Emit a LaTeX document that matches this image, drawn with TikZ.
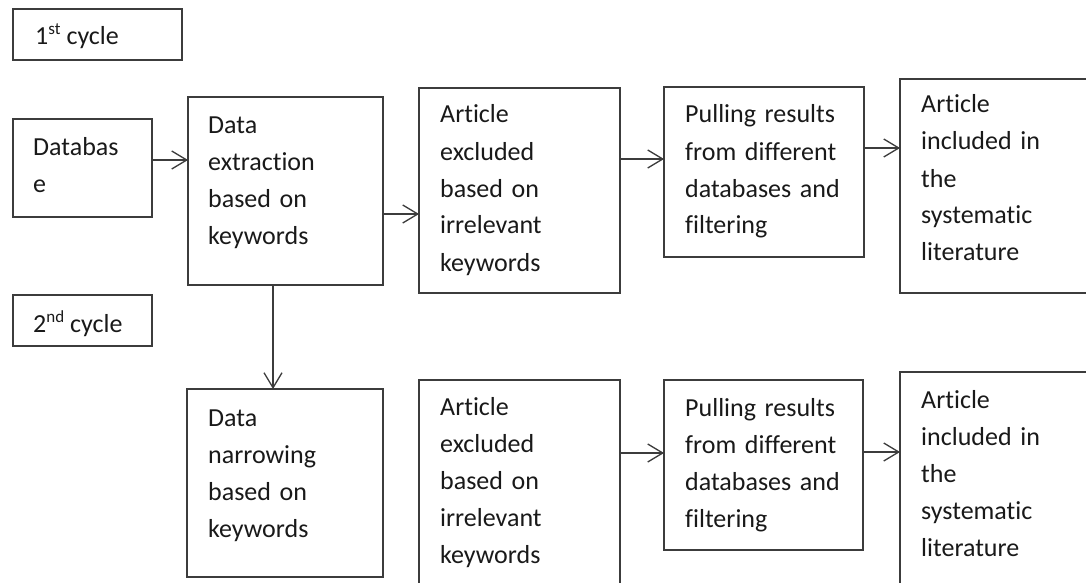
\documentclass[tikz,border=0pt]{standalone}
\usepackage{fontspec}
\setmainfont{Carlito}[Ligatures=NoCommon]
\usetikzlibrary{arrows.meta,calc}
\definecolor{edge}{RGB}{60,60,60}
\newcommand{\supx}[1]{\raisebox{10pt}{\fontsize{17}{17}\selectfont #1}}
\begin{document}
\begin{tikzpicture}[x=1pt,y=-1pt,
  box/.style={draw=edge, line width=1.3pt, anchor=north west, inner sep=0pt, outer sep=0pt, fill=none},
  lbl/.style={anchor=base west, inner sep=0pt, text width=190pt, align=left, text=black!90, font=\fontsize{26}{37}\selectfont},
  arr/.style={draw=edge, line width=1.3pt, -{Straight Barb[length=15pt,width=18pt,line width=1.3pt]}}]
\useasboundingbox (0,0) rectangle (1086,583);
\clip (0,0) rectangle (1086,583);
% boxes
\node[box, minimum width=169pt, minimum height=51pt] (c1) at (13,9) {};
\node[box, minimum width=139pt, minimum height=98pt] (db) at (13,119) {};
\node[box, minimum width=195pt, minimum height=188pt] (ext) at (188,97) {};
\node[box, minimum width=201pt, minimum height=205pt] (art1) at (419,88) {};
\node[box, minimum width=200pt, minimum height=170pt] (pul1) at (664,87) {};
\node[box, minimum width=200pt, minimum height=214pt] (inc1) at (900,79) {};
\node[box, minimum width=139pt, minimum height=51pt] (c2) at (13,295) {};
\node[box, minimum width=196pt, minimum height=188pt] (nar) at (187,389) {};
\node[box, minimum width=201pt, minimum height=225pt] (art2) at (419,380) {};
\node[box, minimum width=199pt, minimum height=170pt] (pul2) at (664,380) {};
\node[box, minimum width=200pt, minimum height=235pt] (inc2) at (900,372) {};
% texts
\node[lbl] (c1t) at ($(c1.north west)+(22,36)$) {1\supx{st}\hspace{6pt}cycle};
\node[lbl] (c2t) at ($(c2.north west)+(20,37)$) {2\supx{nd}\hspace{6pt}cycle};
\node[lbl] (dbt) at ($(db.north west)+(20,36)$) {Databas\\e};
\node[lbl] (extt) at ($(ext.north west)+(20,36)$) {Data\\extraction\\based on\\keywords};
\node[lbl] (art1t) at ($(art1.north west)+(21,35)$) {Article\\excluded\\based on\\irrelevant\\keywords};
\node[lbl] (pul1t) at ($(pul1.north west)+(21,36)$) {Pulling results\\from different\\databases and\\filtering};
\node[lbl] (inc1t) at ($(inc1.north west)+(21,34)$) {Article\\included in\\the\\systematic\\literature};
\node[lbl] (nart) at ($(nar.north west)+(21,37)$) {Data\\narrowing\\based on\\keywords};
\node[lbl] (art2t) at ($(art2.north west)+(21,35)$) {Article\\excluded\\based on\\irrelevant\\keywords};
\node[lbl] (pul2t) at ($(pul2.north west)+(21,36)$) {Pulling results\\from different\\databases and\\filtering};
\node[lbl] (inc2t) at ($(inc2.north west)+(21,36)$) {Article\\included in\\the\\systematic\\literature};
% connectors
\draw[arr] ([yshift=8pt]db.east) -- ([yshift=8pt]db.east -| ext.west);
\draw[arr] ([yshift=-23pt]ext.east) -- ([yshift=-23pt]ext.east -| art1.west);
\draw[arr] ([yshift=31.5pt]art1.east) -- ([yshift=31.5pt]art1.east -| pul1.west);
\draw[arr] ([yshift=24pt]pul1.east) -- ([yshift=24pt]pul1.east -| inc1.west);
\draw[arr] ([xshift=-12.5pt]ext.south) -- ([xshift=-12.5pt]ext.south |- nar.north);
\draw[arr] ([yshift=12pt]pul2.west -| art2.east) -- ([yshift=12pt]pul2.west);
\draw[arr] ([yshift=13pt]pul2.east) -- ([yshift=13pt]pul2.east -| inc2.west);
\end{tikzpicture}
\end{document}
